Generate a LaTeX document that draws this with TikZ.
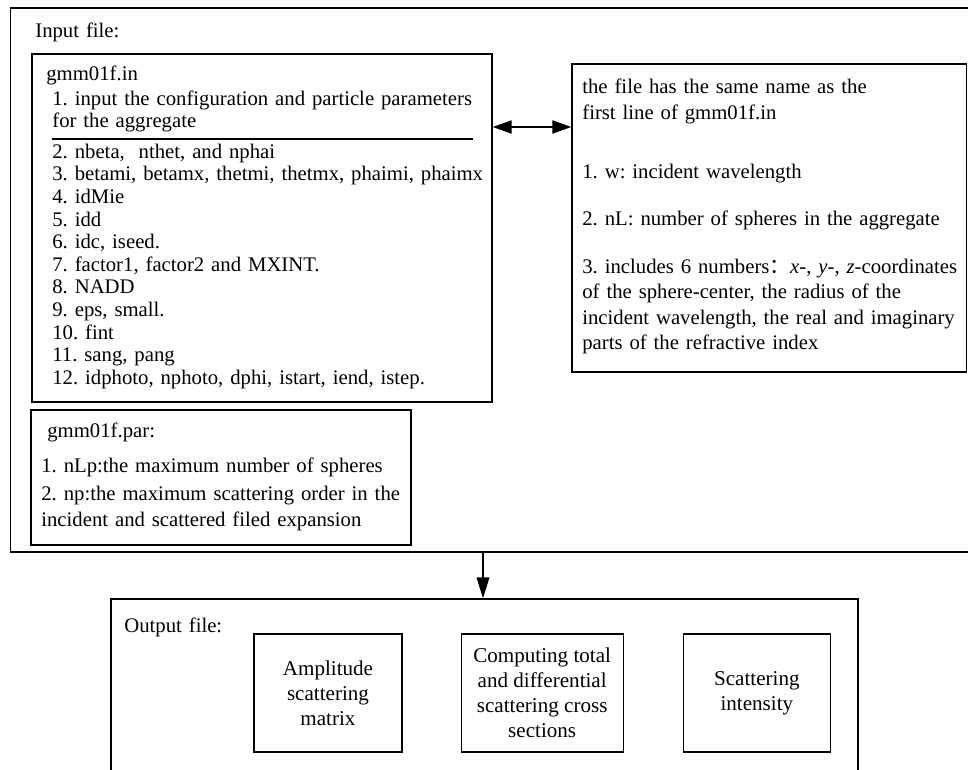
\documentclass[tikz,border=0pt]{standalone}
\usepackage{fontspec}
\setmainfont{Liberation Serif}
\newfontfamily\cjk{Noto Sans CJK SC}
\usetikzlibrary{arrows.meta, positioning, fit}
\frenchspacing
\tikzset{%
	frame/.style={draw, line width=0.7pt, inner sep=0pt},
	txt/.style={anchor=base west, inner sep=0pt, align=left, text width=#1,%
		font=\fontsize{11.8}{12.9}\selectfont},
	txt/.default=9.5cm,
	outbox/.style={draw, line width=0.7pt, align=center, minimum height=2.36cm,%
		inner sep=0pt, font=\fontsize{12}{14.2}\selectfont},
	link/.style={line width=1.1pt, -{Triangle[length=0.42cm, width=0.25cm]}},
	biglink/.style={line width=1.1pt, {Triangle[length=0.38cm, width=0.26cm]}-{Triangle[length=0.38cm, width=0.26cm]}}
}

\begin{document}
\begin{tikzpicture}[x=0.02cm, y=-0.02cm]
	\useasboundingbox (0,0) rectangle (968,769);

	% input side
	\node[frame, fit={(10.5,8) (980,552)}] (infile) {};
	\node[frame, fit={(32,54) (492,402)}] (inbox) {};
	\node[frame, fit={(31,410) (411,545)}] (parbox) {};
	\node[frame, fit={(572,64) (966.5,372)}] (namebox) {};

	\node[txt] (inlabel) at (35,37) {Input file:};
	\node[txt] (inname) at (46,80) {gmm01f.in};
	\node[txt] (initem) at (52,105) {1. input the configuration and particle parameters\\for the aggregate};
	\draw[line width=0.7pt] (52,139) -- (473,139);
	\node[txt] (inlist) at (52,158) {2. nbeta,~ nthet, and nphai\\
		3. betami, betamx, thetmi, thetmx, phaimi, phaimx\\
		4. idMie\\
		5. idd\\
		6. idc, iseed.\\
		7. factor1, factor2 and MXINT.\\
		8. NADD\\
		9. eps, small.\\
		10. fint\\
		11. sang, pang\\
		12. idphoto, nphoto, dphi, istart, iend, istep.};

	\node[txt] (parname) at (47,437) {gmm01f.par:};
	\node[txt] (paritem1) at (41,472) {1. nLp:the maximum number of spheres};
	\node[txt, font=\fontsize{11.8}{15.3}\selectfont] (paritem2) at (41,500) {2. np:the maximum scattering order in the\\incident and scattered filed expansion};

	\node[txt=8cm, font=\fontsize{11.8}{15.3}\selectfont] (namehead) at (582,93) {the file has the same name as the\\first line of gmm01f.in};
	\node[txt=8cm] (nameitem1) at (582,178) {1. w: incident wavelength};
	\node[txt=8cm] (nameitem2) at (582,225) {2. nL: number of spheres in the aggregate};
	\node[txt=8cm, font=\fontsize{11.8}{14.6}\selectfont] (nameitem3) at (582,273) {3. includes 6 numbers{\cjk ：}\textit{x}-, \textit{y}-, \textit{z}-coordinates\\
		of the sphere-center, the radius of the\\
		incident wavelength, the real and imaginary\\
		parts of the refractive index};

	% output side
	\node[frame, fit={(111,599) (858,790)}] (outfile) {};
	\node[txt] (outlabel) at (124,632) {Output file:};
	\node[outbox, minimum width=2.96cm] (amp) at (328,693) {Amplitude\\scattering\\matrix};
	\node[outbox, minimum width=3.24cm, right=1.16cm of amp] (xsec) {Computing total\\and differential\\scattering cross\\sections};
	\node[outbox, minimum width=2.94cm, right=1.18cm of xsec] (inten) {Scattering\\intensity};

	\coordinate (lvl) at (0,127);
	\coordinate (drop) at (483,0);
	\draw[biglink] (inbox.east |- lvl) -- (namebox.west |- lvl);
	\draw[link] (infile.south -| drop) -- (outfile.north -| drop);
\end{tikzpicture}
\end{document}
